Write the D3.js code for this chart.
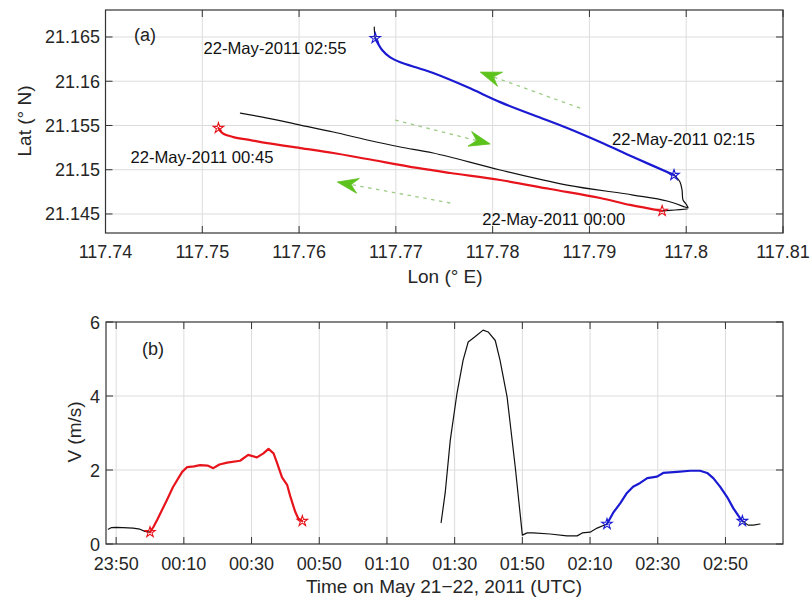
<!DOCTYPE html>
<html><head><meta charset="utf-8">
<script src="https://cdn.jsdelivr.net/npm/d3@7"></script>
<style>body{margin:0;background:#fff}svg{display:block}text{font-family:Arial,"Liberation Sans",Helvetica,sans-serif}</style>
</head><body><svg id="c" width="811" height="600"></svg>
<script>
// ---------- data: panel (a) trajectory, [lon, lat] ----------
const lonTicks = [117.74,117.75,117.76,117.77,117.78,117.79,117.80,117.81];
const lonTickLabels = ["117.74","117.75","117.76","117.77","117.78","117.79","117.8","117.81"];
const latTicks = [21.145,21.15,21.155,21.16,21.165];
const latTickLabels = ["21.145","21.15","21.155","21.16","21.165"];
const trackBlackEarly = [[117.80009,21.14556],[117.79885,21.14545],[117.79751,21.14534]];
const trackRed = [[117.79751,21.14534],[117.79420,21.14602],[117.79110,21.14681],[117.78594,21.14782],
  [117.78078,21.14884],[117.77562,21.14963],[117.77221,21.15020],[117.76705,21.15121],[117.76354,21.15189],
  [117.76013,21.15245],[117.75672,21.15301],[117.75497,21.15335],[117.75321,21.15369],[117.75208,21.15414],[117.75167,21.15471]];
const trackBlackMid = [[117.75394,21.15640],[117.75672,21.15584],[117.76013,21.15505],[117.76354,21.15426],
  [117.76705,21.15336],[117.77046,21.15257],[117.77386,21.15189],[117.78078,21.14997],[117.78770,21.14827],
  [117.79451,21.14714],[117.79802,21.14647],[117.79988,21.14579],[117.80019,21.14568],[117.79998,21.14613],
  [117.79967,21.14658],[117.79957,21.14771],[117.79936,21.14861],[117.79905,21.14906],[117.79874,21.14940]];
const trackBlue = [[117.79874,21.14940],[117.79451,21.15144],[117.79110,21.15313],[117.78770,21.15471],
  [117.78419,21.15618],[117.78078,21.15764],[117.77737,21.15934],[117.77386,21.16092],[117.77252,21.16142],
  [117.77046,21.16215],[117.76942,21.16270],[117.76860,21.16350],[117.76787,21.16486]];
const trackBlackLate = [[117.76787,21.16486],[117.76780,21.16550],[117.76777,21.16611]];
// current arrows: [tailLon, tailLat, tipLon, tipLat]
const currentArrows = [[117.78904,21.15696,117.77872,21.16103],[117.76994,21.15561,117.77975,21.15291],[117.77562,21.14624,117.76395,21.14861]];
const mapLabels = [
  {text:"22-May-2011 02:55", lon:117.75012, lat:21.16310},
  {text:"22-May-2011 00:45", lon:117.74258, lat:21.15076},
  {text:"22-May-2011 02:15", lon:117.79234, lat:21.15279},
  {text:"22-May-2011 00:00", lon:117.77892, lat:21.14376}
];
// ---------- data: panel (b) speed, [time, V m/s] ----------
const timeTicks = ["23:50","00:10","00:30","00:50","01:10","01:30","01:50","02:10","02:30","02:50"];
const vTicks = [0,2,4,6];
const speedBlackEarly = [["23:47:40",0.40],["23:48:30",0.44],["23:50:00",0.45],["23:52:00",0.44],["23:55:00",0.43],
  ["23:57:00",0.40],["23:58:30",0.34],["00:00:00",0.32]];
const speedRed = [["00:00:00",0.32],["00:01:00",0.46],["00:02:06",0.65],["00:05:00",1.19],["00:06:48",1.54],
  ["00:09:30",1.95],["00:11:00",2.08],["00:13:00",2.10],["00:14:48",2.13],["00:17:00",2.12],["00:18:42",2.05],
  ["00:20:30",2.15],["00:22:48",2.20],["00:26:36",2.25],["00:29:00",2.41],["00:31:36",2.34],["00:33:30",2.45],
  ["00:35:00",2.57],["00:36:30",2.45],["00:37:30",2.20],["00:39:00",1.80],["00:40:30",1.60],["00:41:24",1.30],
  ["00:42:54",0.87],["00:43:48",0.69],["00:45:00",0.62]];
const speedBlackMid = [["01:26:00",0.58],["01:27:12",1.38],["01:28:42",2.80],["01:30:42",4.08],["01:32:30",4.97],
  ["01:34:00",5.46],["01:36:00",5.60],["01:38:24",5.78],["01:39:54",5.73],["01:42:00",5.50],["01:43:24",4.97],
  ["01:45:30",3.97],["01:47:54",2.08],["01:50:00",0.24],["01:51:24",0.30],["01:53:12",0.30],["01:58:12",0.27],
  ["02:03:12",0.22],["02:06:12",0.22],["02:07:42",0.30],["02:10:00",0.32],["02:12:06",0.43],["02:15:00",0.54]];
const speedBlue = [["02:15:00",0.54],["02:16:48",0.84],["02:18:54",1.10],["02:20:54",1.38],["02:22:42",1.55],
  ["02:24:48",1.65],["02:26:54",1.78],["02:29:48",1.82],["02:31:36",1.92],["02:35:42",1.95],["02:39:36",1.98],
  ["02:42:30",1.98],["02:44:36",1.92],["02:46:24",1.78],["02:48:24",1.55],["02:50:30",1.27],["02:52:18",0.97],
  ["02:54:18",0.70],["02:55:00",0.62]];
const speedBlackLate = [["02:55:00",0.62],["02:56:42",0.51],["02:58:12",0.51],["03:00:12",0.54]];

// ---------- drawing ----------
const svg = d3.select("#c");
svg.append("rect").attr("width",811).attr("height",600).attr("fill","#fff");
const axisColor = "#333", gridColor = "#dcdcdc", tickLen = 7;
const RED = "#e8141c", BLUE = "#1a1ad2";
const parseT = s => { const p = s.split(":").map(Number); const day = p[0] >= 12 ? 21 : 22;
  return new Date(Date.UTC(2011,4,day,p[0],p[1],p[2]||0)); };

function frame(g, x, y, xt, yt, x0, x1, y0, y1){
  g.append("g").selectAll("line").data(xt).join("line")
    .attr("x1",d=>x(d)).attr("x2",d=>x(d)).attr("y1",y0).attr("y2",y1)
    .attr("stroke",gridColor).attr("stroke-width",1);
  g.append("g").selectAll("line").data(yt).join("line")
    .attr("y1",d=>y(d)).attr("y2",d=>y(d)).attr("x1",x0).attr("x2",x1)
    .attr("stroke",gridColor).attr("stroke-width",1);
}
function box(g, x, y, xt, yt, xfmt, yfmt, x0, x1, y0, y1, xLabY, yLabX){
  const tk = g.append("g").attr("stroke",axisColor).attr("stroke-width",1);
  xt.forEach(d=>{ tk.append("line").attr("x1",x(d)).attr("x2",x(d)).attr("y1",y1).attr("y2",y1-tickLen);
                  tk.append("line").attr("x1",x(d)).attr("x2",x(d)).attr("y1",y0).attr("y2",y0+tickLen); });
  yt.forEach(d=>{ tk.append("line").attr("y1",y(d)).attr("y2",y(d)).attr("x1",x0).attr("x2",x0+tickLen);
                  tk.append("line").attr("y1",y(d)).attr("y2",y(d)).attr("x1",x1).attr("x2",x1-tickLen); });
  g.append("rect").attr("x",x0).attr("y",y0).attr("width",x1-x0).attr("height",y1-y0)
    .attr("fill","none").attr("stroke",axisColor).attr("stroke-width",1.2);
  g.append("g").selectAll("text").data(xt).join("text")
    .attr("x",d=>x(d)).attr("y",xLabY).attr("text-anchor","middle")
    .attr("font-size",18).attr("fill","#262626").text((d,i)=>xfmt(d,i));
  g.append("g").selectAll("text").data(yt).join("text")
    .attr("x",yLabX).attr("y",d=>y(d)+6.5).attr("text-anchor","end")
    .attr("font-size",18).attr("fill","#262626").text((d,i)=>yfmt(d,i));
}
function star(g, px, py, color){
  g.append("path").attr("d", d3.symbol(d3.symbolStar, 34)())
    .attr("transform",`translate(${px},${py})`)
    .attr("fill","none").attr("stroke",color).attr("stroke-width",1.1);
}

// ---- panel (a)
const ax0 = 105.5, ax1 = 783, ay0 = 10, ay1 = 233;
const xLon = d3.scaleLinear().domain([117.74,117.81]).range([ax0,ax1]);
const yLat = d3.scaleLinear().domain([21.14285,21.16805]).range([ay1,ay0]);
const ga = svg.append("g");
frame(ga, xLon, yLat, lonTicks, latTicks, ax0, ax1, ay0, ay1);
const lineA = d3.line().x(d=>xLon(d[0])).y(d=>yLat(d[1])).curve(d3.curveCatmullRom.alpha(0.5));
[[trackBlackEarly,"#111",1.2],[trackBlackMid,"#111",1.2],[trackBlackLate,"#111",1.2],[trackRed,RED,2.2],[trackBlue,BLUE,2.2]]
  .forEach(([d,c,w])=>ga.append("path").attr("d",lineA(d)).attr("fill","none").attr("stroke",c)
    .attr("stroke-width",w).attr("stroke-linejoin","round").attr("stroke-linecap","round"));
currentArrows.forEach(a=>{
  const tx = xLon(a[0]), ty = yLat(a[1]), hx = xLon(a[2]), hy = yLat(a[3]);
  const L = Math.hypot(hx-tx, hy-ty), ux = (hx-tx)/L, uy = (hy-ty)/L, px = -uy, py = ux;
  const hl = 21, hw = 7.5, notch = 14;
  ga.append("line").attr("x1",tx).attr("y1",ty).attr("x2",hx-ux*notch).attr("y2",hy-uy*notch)
    .attr("stroke","#9ccb84").attr("stroke-width",1.3).attr("stroke-dasharray","3.5,4.5");
  const pts = [[hx,hy],[hx-ux*hl+px*hw, hy-uy*hl+py*hw],[hx-ux*notch, hy-uy*notch],[hx-ux*hl-px*hw, hy-uy*hl-py*hw]];
  ga.append("path").attr("d","M"+pts.map(p=>p.join(",")).join("L")+"Z").attr("fill","#5cc21c").attr("stroke","#5cc21c").attr("stroke-width",0.8);
});
star(ga, xLon(trackRed[0][0]), yLat(trackRed[0][1]), RED);
star(ga, xLon(trackRed[trackRed.length-1][0]), yLat(trackRed[trackRed.length-1][1]), RED);
star(ga, xLon(trackBlue[0][0]), yLat(trackBlue[0][1]), BLUE);
star(ga, xLon(trackBlue[trackBlue.length-1][0]), yLat(trackBlue[trackBlue.length-1][1]), BLUE);
ga.append("g").selectAll("text").data(mapLabels).join("text")
  .attr("x",d=>xLon(d.lon)).attr("y",d=>yLat(d.lat)).attr("font-size",16.5).attr("fill","#111")
  .attr("textLength",143).attr("lengthAdjust","spacingAndGlyphs").text(d=>d.text);
box(ga, xLon, yLat, lonTicks, latTicks, (d,i)=>lonTickLabels[i], (d,i)=>latTickLabels[i], ax0, ax1, ay0, ay1, 258, 100);
ga.append("text").attr("x",134).attr("y",41).attr("font-size",18).attr("fill","#222").text("(a)");
ga.append("text").attr("x",445).attr("y",283).attr("text-anchor","middle").attr("font-size",19).attr("fill","#262626").text("Lon (° E)");
ga.append("text").attr("transform","translate(31,121) rotate(-90)").attr("text-anchor","middle").attr("font-size",19).attr("fill","#262626").text("Lat (° N)");

// ---- panel (b)
const bx0 = 106, bx1 = 783, by0 = 322, by1 = 544;
const xT = d3.scaleUtc().domain([parseT("23:47:00"), parseT("03:07:00")]).range([bx0,bx1]);
const yV = d3.scaleLinear().domain([0,6]).range([by1,by0]);
const gb = svg.append("g");
const tTicks = timeTicks.map(parseT);
frame(gb, xT, yV, tTicks, vTicks.slice(1,3), bx0, bx1, by0, by1);
const lineB = d3.line().x(d=>xT(parseT(d[0]))).y(d=>yV(d[1]));
[[speedBlackEarly,"#111",1.2],[speedBlackMid,"#111",1.2],[speedBlackLate,"#111",1.2],[speedRed,RED,2.2],[speedBlue,BLUE,2.2]]
  .forEach(([d,c,w])=>gb.append("path").attr("d",lineB(d)).attr("fill","none").attr("stroke",c)
    .attr("stroke-width",w).attr("stroke-linejoin","round").attr("stroke-linecap","round"));
[[speedRed,RED],[speedBlue,BLUE]].forEach(([d,c])=>{
  star(gb, xT(parseT(d[0][0])), yV(d[0][1]), c);
  star(gb, xT(parseT(d[d.length-1][0])), yV(d[d.length-1][1]), c);
});
box(gb, xT, yV, tTicks, vTicks, (d,i)=>timeTicks[i], d=>d3.format("d")(d), bx0, bx1, by0, by1, 570, 100);
gb.append("text").attr("x",142).attr("y",355).attr("font-size",18).attr("fill","#222").text("(b)");
gb.append("text").attr("x",444).attr("y",593).attr("text-anchor","middle").attr("font-size",19).attr("fill","#262626").text("Time on May 21\u221222, 2011 (UTC)");
gb.append("text").attr("transform","translate(81,432) rotate(-90)").attr("text-anchor","middle").attr("font-size",19).attr("fill","#262626").text("V (m/s)");
</script></body></html>
